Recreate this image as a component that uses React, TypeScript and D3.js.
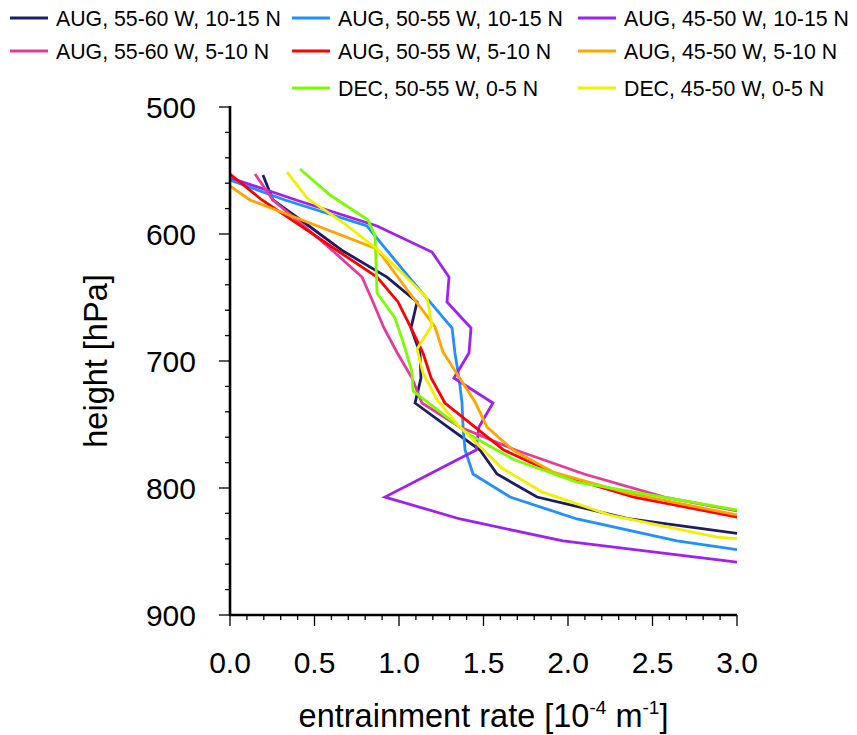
import React from 'react';
import * as d3 from 'd3';

// tick values
const X_TICKS = [0, 0.5, 1.0, 1.5, 2.0, 2.5, 3.0];
const Y_TICKS = [500, 600, 700, 800, 900];

// series: [entrainment rate (1e-4 m-1), pressure (hPa)]
const AUG_5560_1015: [number, number][] = [
  [0.195, 553.5], [0.254, 573.2], [0.467, 593.7], [0.669, 613.4], [0.929, 633.9],
  [1.107, 653.5], [1.071, 674.0], [1.124, 693.7], [1.130, 713.4], [1.095, 733.1],
  [1.290, 752.0], [1.479, 770.1], [1.580, 789.0], [1.817, 807.1], [2.367, 824.4],
  [3.330, 841.7],
];
const AUG_5055_1015: [number, number][] = [
  [0.0, 557.5], [0.325, 573.2], [0.811, 593.7], [0.932, 613.4], [1.059, 633.9],
  [1.183, 653.5], [1.314, 674.0], [1.331, 693.7], [1.355, 713.4], [1.373, 733.1],
  [1.379, 752.0], [1.391, 770.1], [1.438, 789.0], [1.657, 807.1], [2.053, 824.4],
  [2.645, 841.7], [3.509, 858.3],
];
const AUG_4550_1015: [number, number][] = [
  [0.006, 555.9], [0.391, 573.2], [0.870, 593.7], [1.195, 614.2], [1.296, 633.9],
  [1.284, 653.5], [1.426, 674.0], [1.414, 693.7], [1.325, 713.4], [1.556, 733.1],
  [1.473, 752.0], [1.456, 770.1], [0.917, 807.1], [1.361, 824.4], [1.970, 841.7],
  [3.000, 858.3], [4.083, 875.6],
];
const AUG_5560_0510: [number, number][] = [
  [0.148, 552.8], [0.254, 573.2], [0.438, 593.7], [0.609, 613.4], [0.781, 633.9],
  [0.846, 653.5], [0.911, 674.0], [0.990, 693.7], [1.077, 713.4], [1.136, 733.1],
  [1.360, 752.0], [1.690, 770.1], [2.095, 789.0], [2.570, 807.1], [3.250, 824.4],
];
const AUG_5055_0510: [number, number][] = [
  [0.0, 552.8], [0.189, 573.2], [0.420, 593.7], [0.639, 613.4], [0.870, 633.9],
  [0.994, 653.5], [1.071, 674.0], [1.142, 693.7], [1.190, 713.4], [1.272, 733.1],
  [1.450, 752.0], [1.620, 770.1], [1.929, 789.0], [2.390, 807.1], [3.060, 824.4],
];
const AUG_4550_0510: [number, number][] = [
  [0.0, 562.2], [0.118, 573.2], [0.870, 611.8], [1.036, 641.7], [1.213, 673.2],
  [1.260, 692.9], [1.450, 732.3], [1.521, 752.0], [1.675, 770.1], [1.911, 787.4],
  [2.349, 803.9], [3.150, 825.2],
];
const DEC_5055_0005: [number, number][] = [
  [0.414, 548.8], [0.592, 569.3], [0.817, 589.0], [0.858, 601.6], [0.870, 646.5],
  [0.976, 666.1], [1.030, 687.4], [1.077, 708.7], [1.083, 723.6], [1.420, 758.3],
  [1.686, 778.0], [2.053, 795.3], [3.200, 822.0],
];
const DEC_4550_0005: [number, number][] = [
  [0.337, 551.2], [0.456, 571.7], [0.680, 592.1], [0.876, 612.6], [1.030, 632.3],
  [1.166, 650.4], [1.195, 671.7], [1.107, 690.6], [1.142, 709.4], [1.225, 730.7],
  [1.361, 752.0], [1.609, 784.3], [1.846, 803.1], [2.249, 821.3], [2.882, 838.6],
  [4.500, 855.9],
];

const SERIES = [
  { label: 'AUG, 55-60 W, 10-15 N', color: '#1c1c66', data: AUG_5560_1015, row: 0, col: 0 },
  { label: 'AUG, 50-55 W, 10-15 N', color: '#1e90ff', data: AUG_5055_1015, row: 0, col: 1 },
  { label: 'AUG, 45-50 W, 10-15 N', color: '#a020f0', data: AUG_4550_1015, row: 0, col: 2 },
  { label: 'AUG, 55-60 W, 5-10 N', color: '#e8389c', data: AUG_5560_0510, row: 1, col: 0 },
  { label: 'AUG, 50-55 W, 5-10 N', color: '#ff0000', data: AUG_5055_0510, row: 1, col: 1 },
  { label: 'AUG, 45-50 W, 5-10 N', color: '#ffa500', data: AUG_4550_0510, row: 1, col: 2 },
  { label: 'DEC, 50-55 W, 0-5 N', color: '#7cfc00', data: DEC_5055_0005, row: 2, col: 1 },
  { label: 'DEC, 45-50 W, 0-5 N', color: '#f0f000', data: DEC_4550_0005, row: 2, col: 2 },
];

const FONT = "'Liberation Sans', Arial, Helvetica, sans-serif";

export default function App() {
  const W = 857, H = 735;
  const x = d3.scaleLinear().domain([0, 3]).range([230, 737]);
  const y = d3.scaleLinear().domain([500, 900]).range([107, 615]);
  const line = d3.line<[number, number]>().x(d => x(d[0])).y(d => y(d[1]));
  const minorX = d3.range(0, 30.5, 1).map(i => i / 10);
  const minorY = d3.range(500, 901, 20);
  const [x0, x1] = x.range();
  const [y0, y1] = y.range();

  const legCols = [10, 292, 578];
  const legRows = [18, 51, 88];

  return (
    <svg width={W} height={H} style={{ position: 'absolute', left: 0, top: 0, background: '#fff' }}
      fontFamily={FONT}>
      <defs>
        <clipPath id="plotclip">
          <rect x={x0} y={y0} width={x1 - x0} height={y1 - y0} />
        </clipPath>
      </defs>
      <rect width={W} height={H} fill="#fff" />

      {/* legend */}
      {SERIES.map(s => (
        <g key={s.label}>
          <line x1={legCols[s.col]} x2={legCols[s.col] + 38} y1={legRows[s.row]} y2={legRows[s.row]}
            stroke={s.color} strokeWidth={3} />
          <text x={legCols[s.col] + 46} y={legRows[s.row] + 8} fontSize={21.3}>{s.label}</text>
        </g>
      ))}

      {/* lines */}
      <g clipPath="url(#plotclip)">
        {SERIES.map(s => (
          <path key={s.label} d={line(s.data) || ''} fill="none" stroke={s.color}
            strokeWidth={2.8} strokeLinejoin="miter" strokeMiterlimit={3} />
        ))}
      </g>

      {/* y axis */}
      {minorY.map(v => (
        <line key={'ym' + v} x1={x0} x2={x0 - (v % 100 === 0 ? 11 : 5)} y1={y(v)} y2={y(v)}
          stroke="#000" strokeWidth={1.3} />
      ))}
      {Y_TICKS.map(v => (
        <text key={'yt' + v} x={196} y={y(v) + 11} fontSize={30} textAnchor="end">{v}</text>
      ))}
      <line x1={x0} x2={x0} y1={y0 - 1} y2={y1 + 1} stroke="#000" strokeWidth={2.6} />

      {/* x axis */}
      {minorX.map(v => (
        <line key={'xm' + v} x1={x(v)} x2={x(v)} y1={y1} y2={y1 + (Math.round(v * 10) % 5 === 0 ? 11 : 5)}
          stroke="#000" strokeWidth={1.3} />
      ))}
      {X_TICKS.map(v => (
        <text key={'xt' + v} x={x(v)} y={673} fontSize={30} textAnchor="middle">{v.toFixed(1)}</text>
      ))}
      <line x1={x0 - 1} x2={x1} y1={y1} y2={y1} stroke="#000" strokeWidth={2.6} />

      {/* axis titles */}
      <text x={(x0 + x1) / 2} y={727} fontSize={32.5} textAnchor="middle">
        entrainment rate [10<tspan dy={-13} fontSize={19}>-4</tspan><tspan dy={13}> m</tspan><tspan dy={-13} fontSize={19}>-1</tspan><tspan dy={13}>]</tspan>
      </text>
      <text transform={`translate(107, ${(y0 + y1) / 2}) rotate(-90)`} fontSize={32.5} textAnchor="middle">
        height [hPa]
      </text>
    </svg>
  );
}
